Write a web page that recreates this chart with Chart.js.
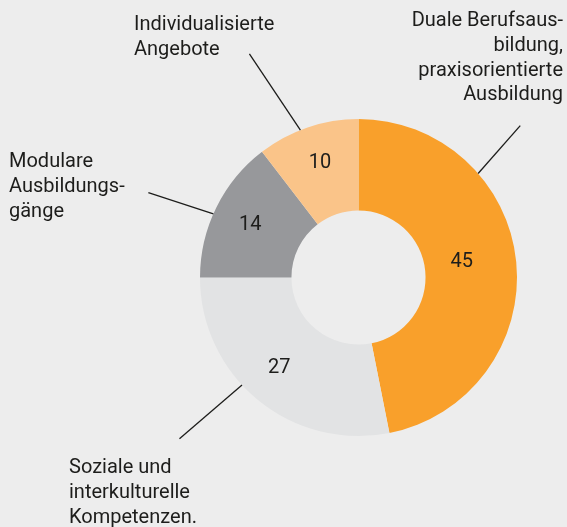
<!DOCTYPE html>
<html>
<head>
<meta charset="utf-8">
<script src="https://cdn.jsdelivr.net/npm/chart.js@4/dist/chart.umd.min.js"></script>
<style>
  html, body { margin: 0; padding: 0; background: #ededed; }
  #wrap { width: 567px; height: 527px; position: relative; }
</style>
</head>
<body>
<div id="wrap"><canvas id="ausbildung"></canvas></div>
<script>
const categories = [
  ["Duale Berufsaus-", "bildung,", "praxisorientierte", "Ausbildung"],
  ["Soziale und", "interkulturelle", "Kompetenzen."],
  ["Modulare", "Ausbildungs-", "gänge"],
  ["Individualisierte", "Angebote"]
];
const values = [45, 27, 14, 10];
const colors = ["#f9a02b", "#e2e3e4", "#97989b", "#fac489"];

// where the category text and leader lines sit (layout only)
const calloutLayout = [
  { x: 563, y: 26, align: "right", lineFrom: [49, 1.0], lineTo: [46.8, 1.4] },
  { x: 69, y: 473, align: "left", lineFrom: [227.3, 1.0], lineTo: [228, 1.52] },
  { x: 9, y: 167, align: "left", lineFrom: [293.7, 1.0], lineTo: [292, 1.43] },
  { x: 134, y: 30, align: "left", lineFrom: [338.5, 1.0], lineTo: [334, 1.57] }
];
// value label placement: angle shift (deg) and radial fraction inside the ring
const valueLayout = [
  { da: -3.8, f: 0.41 },
  { da: 2.3, f: 0.57 },
  { da: 0.3, f: 0.59 },
  { da: 0.3, f: 0.60 }
];

const calloutPlugin = {
  id: "callouts",
  afterDatasetsDraw(chart) {
    const ctx = chart.ctx;
    const meta = chart.getDatasetMeta(0);
    ctx.save();
    ctx.fillStyle = "#1d1d1b";
    ctx.strokeStyle = "#1d1d1b";
    ctx.lineWidth = 1.3;
    meta.data.forEach((arc, i) => {
      const p = arc.getProps(["x", "y", "startAngle", "endAngle", "innerRadius", "outerRadius"], true);
      // value inside ring
      const v = valueLayout[i];
      const mid = (p.startAngle + p.endAngle) / 2 + v.da * Math.PI / 180;
      const r = p.innerRadius + v.f * (p.outerRadius - p.innerRadius);
      ctx.font = "20px Roboto";
      ctx.textAlign = "center";
      ctx.textBaseline = "middle";
      ctx.fillText(String(values[i]), p.x + r * Math.cos(mid), p.y + r * Math.sin(mid) + 1.5);

      // leader line
      const c = calloutLayout[i];
      const pt = (a, k) => {
        const ang = (a - 90) * Math.PI / 180;
        return [p.x + k * p.outerRadius * Math.cos(ang), p.y + k * p.outerRadius * Math.sin(ang)];
      };
      const a1 = pt(c.lineFrom[0], c.lineFrom[1]);
      const a2 = pt(c.lineTo[0], c.lineTo[1]);
      ctx.beginPath();
      ctx.moveTo(a1[0], a1[1]);
      ctx.lineTo(a2[0], a2[1]);
      ctx.stroke();

      // category text
      ctx.font = "20px Roboto";
      ctx.textAlign = c.align;
      ctx.textBaseline = "alphabetic";
      categories[i].forEach((line, j) => {
        ctx.fillText(line, c.x, c.y + j * 24.8);
      });
    });
    ctx.restore();
  }
};

new Chart(document.getElementById("ausbildung"), {
  type: "doughnut",
  data: {
    labels: categories.map(c => c.join(" ")),
    datasets: [{
      data: values,
      backgroundColor: colors,
      borderWidth: 0
    }]
  },
  options: {
    responsive: true,
    maintainAspectRatio: false,
    animation: false,
    cutout: "42.3%",
    layout: { padding: { left: 200, right: 50, top: 119, bottom: 91 } },
    plugins: {
      legend: { display: false },
      tooltip: { enabled: false }
    }
  },
  plugins: [calloutPlugin]
});
</script>
</body>
</html>
